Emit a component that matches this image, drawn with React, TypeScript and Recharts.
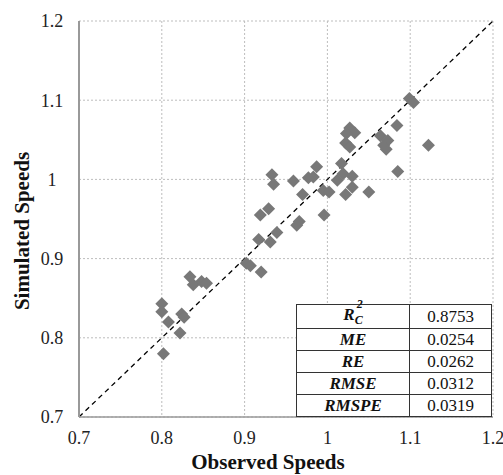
import React from "react";
import {
  ScatterChart,
  Scatter,
  XAxis,
  YAxis,
  CartesianGrid,
  ReferenceLine,
  Label,
} from "recharts";

const observed = [
  1.099, 1.104, 1.084, 1.122, 1.027, 1.033, 1.023, 1.022, 1.027, 1.064,
  1.073, 1.068, 1.071, 1.085, 1.017, 0.987, 0.933, 0.935, 0.959, 0.977,
  0.983, 1.012, 1.019, 1.03, 1.03, 1.022, 1.05, 0.97, 0.995, 1.002,
  0.929, 0.919, 0.996, 0.966, 0.963, 0.939, 0.917, 0.931, 0.902, 0.907,
  0.92, 0.834, 0.838, 0.848, 0.854, 0.8, 0.8, 0.808, 0.824, 0.827,
  0.822, 0.802,
];

const simulated = [
  1.102, 1.097, 1.068, 1.043, 1.065, 1.059, 1.058, 1.046, 1.041, 1.055,
  1.049, 1.043, 1.038, 1.01, 1.02, 1.016, 1.006, 0.994, 0.998, 1.002,
  1.003, 0.999, 1.007, 1.004, 0.99, 0.981, 0.984, 0.981, 0.986, 0.984,
  0.963, 0.955, 0.955, 0.947, 0.942, 0.933, 0.924, 0.921, 0.894, 0.891,
  0.883, 0.877, 0.867, 0.871, 0.869, 0.843, 0.833, 0.82, 0.83, 0.826,
  0.806, 0.78,
];

const ticks = [0.7, 0.8, 0.9, 1, 1.1, 1.2];

const statNames = ["ME", "RE", "RMSE", "RMSPE"];
const statValues = ["0.8753", "0.0254", "0.0262", "0.0312", "0.0319"];

const data = observed.map((x, i) => ({ x, y: simulated[i] }));

const serif = '"Liberation Serif", "Times New Roman", serif';

const Diamond = (props: any) => {
  const { cx, cy } = props;
  const r = 6.5;
  return (
    <polygon
      points={`${cx},${cy - r} ${cx + r},${cy} ${cx},${cy + r} ${cx - r},${cy}`}
      fill="#787878"
    />
  );
};

const YTitle = () => {
  const x = 22;
  const y = 231;
  return (
    <text
      x={x}
      y={y}
      transform={`rotate(-90, ${x}, ${y})`}
      textAnchor="middle"
      dominantBaseline="central"
      fontFamily={serif}
      fontWeight="bold"
      fontSize={21}
      fill="#111"
    >
      Simulated Speeds
    </text>
  );
};

const XTitle = () => (
  <text
    x={268}
    y={469}
    textAnchor="middle"
    fontFamily={serif}
    fontWeight="bold"
    fontSize={21}
    fill="#111"
  >
    Observed Speeds
  </text>
);

const cell: React.CSSProperties = {
  border: "1px solid #333",
  height: 21,
  padding: 0,
  textAlign: "center",
  fontFamily: serif,
  fontSize: 17,
  color: "#111",
};

export default function App() {
  return (
    <div
      style={{
        position: "fixed",
        left: 0,
        top: 0,
        width: 503,
        height: 475,
        background: "#fff",
      }}
    >
      <ScatterChart
        width={503}
        height={475}
        margin={{ top: 21, right: 10, left: 0, bottom: 8 }}
      >
        <CartesianGrid stroke="#bdbdbd" strokeDasharray="2 2" />
        <XAxis
          type="number"
          dataKey="x"
          domain={[0.7, 1.2]}
          ticks={ticks}
          interval={0}
          allowDataOverflow
          tickLine={false}
          tickSize={0}
          tickMargin={14}
          axisLine={{ stroke: "#999", strokeWidth: 1.5 }}
          tick={{ fill: "#222", fontSize: 18, fontFamily: serif }}
          height={50}
        >
          <Label content={<XTitle />} />
        </XAxis>
        <YAxis
          type="number"
          dataKey="y"
          domain={[0.7, 1.2]}
          ticks={ticks}
          interval={0}
          allowDataOverflow
          tickLine={false}
          tickSize={0}
          tickMargin={27}
          width={79}
          axisLine={{ stroke: "#999", strokeWidth: 2 }}
          tick={{ fill: "#222", fontSize: 18, fontFamily: serif, textAnchor: "middle" }}
        >
          <Label content={<YTitle />} />
        </YAxis>
        <Scatter
          data={data}
          shape={<Diamond />}
          isAnimationActive={false}
        />
        <ReferenceLine
          segment={[
            { x: 0.7, y: 0.7 },
            { x: 1.2, y: 1.2 },
          ]}
          stroke="#000"
          strokeWidth={1.3}
          strokeDasharray="5 4"
        />
      </ScatterChart>
      <table
        style={{
          position: "absolute",
          left: 296,
          top: 304,
          width: 196,
          borderCollapse: "collapse",
          background: "#fff",
          border: "1.5px solid #333",
        }}
      >
        <tbody>
          <tr>
            <td style={{ ...cell, width: 112, fontWeight: "bold", fontStyle: "italic" }}>
              R
              <span style={{ position: "relative" }}>
                <sub style={{ fontSize: 12 }}>C</sub>
                <sup style={{ fontSize: 12, position: "absolute", left: 2, top: -8 }}>2</sup>
              </span>
            </td>
            <td style={cell}>{statValues[0]}</td>
          </tr>
          {statNames.map((n, i) => (
            <tr key={n}>
              <td style={{ ...cell, fontWeight: "bold", fontStyle: "italic" }}>{n}</td>
              <td style={cell}>{statValues[i + 1]}</td>
            </tr>
          ))}
        </tbody>
      </table>
    </div>
  );
}
